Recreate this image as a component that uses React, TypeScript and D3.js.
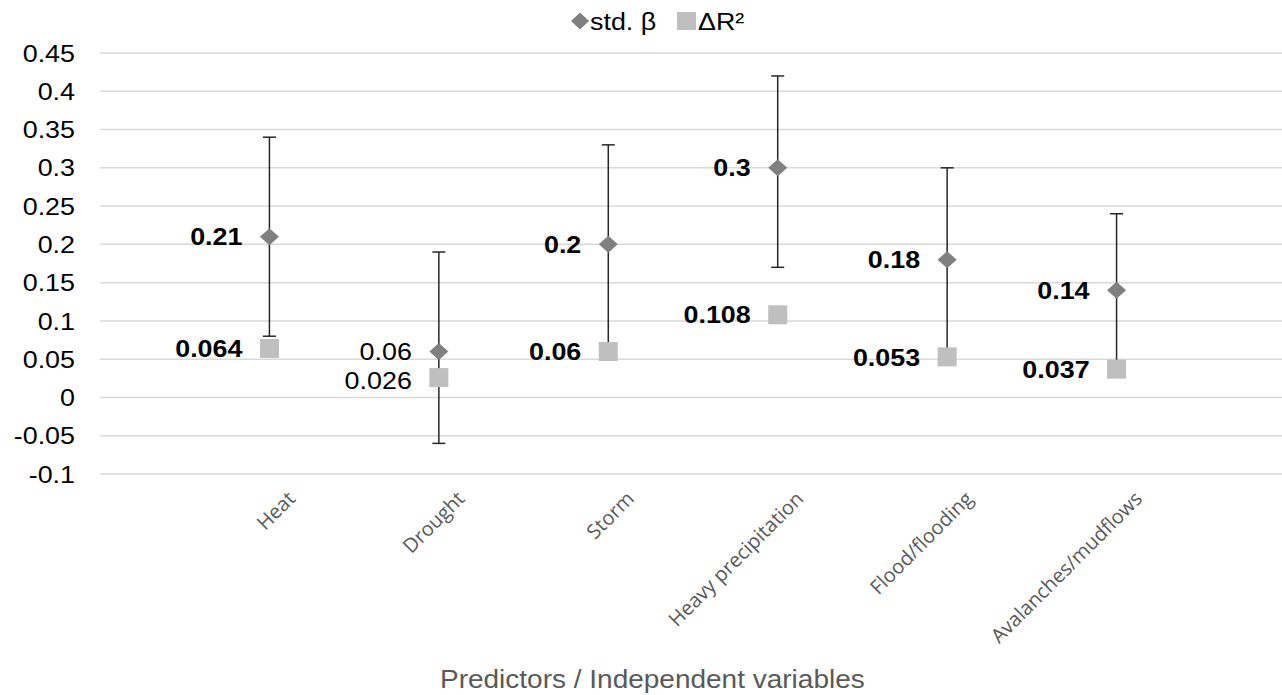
import React from 'react'
import * as d3 from 'd3'

const categories = ['Heat', 'Drought', 'Storm', 'Heavy precipitation', 'Flood/flooding', 'Avalanches/mudflows']
const beta = [0.21, 0.06, 0.2, 0.3, 0.18, 0.14]
const betaLow = [0.08, -0.06, 0.07, 0.17, 0.06, 0.04]
const betaHigh = [0.34, 0.19, 0.33, 0.42, 0.3, 0.24]
const deltaR2 = [0.064, 0.026, 0.06, 0.108, 0.053, 0.037]
// which data labels are bold (significant)
const betaBold = [true, false, true, true, true, true]
const r2Bold = [true, false, true, true, true, true]
const yTicks = [-0.1, -0.05, 0, 0.05, 0.1, 0.15, 0.2, 0.25, 0.3, 0.35, 0.4, 0.45]

const W = 1282
const H = 695
const FONT = '"Liberation Sans", Arial, sans-serif'
const STRETCH = 1.12 // the source picture is a bit wider than tall

type TProps = { x: number, y: number, size: number, bold?: boolean, fill?: string, anchor?: string, dy?: string, children: React.ReactNode }
const T = ({ x, y, size, bold, fill = '#000', anchor = 'start', dy, children }: TProps) => (
  <text transform={`translate(${x},${y}) scale(${STRETCH},1)`} dy={dy} textAnchor={anchor}
    fontFamily={FONT} fontSize={size} fontWeight={bold ? 'bold' : 'normal'} fill={fill}>
    {children}
  </text>
)

const diamondPath = (cx: number, cy: number, hw: number, hh: number) =>
  `M${cx},${cy - hh}L${cx + hw},${cy}L${cx},${cy + hh}L${cx - hw},${cy}Z`

export default function App() {
  const x = d3.scalePoint<string>().domain(categories).range([100, 1286]).padding(1)
  const y = d3.scaleLinear().domain([-0.1, 0.45]).range([474, 53])
  const sq = 19
  const cap = 6.5

  return (
    <svg width={W} height={H} style={{ position: 'absolute', left: 0, top: 0, background: '#fff' }}>
      {/* gridlines */}
      {yTicks.map(t => (
        <line key={t} x1={100} x2={1282} y1={y(t)} y2={y(t)} stroke="#d9d9d9" strokeWidth={1.5} />
      ))}
      {/* y tick labels */}
      {yTicks.map(t => (
        <T key={'l' + t} x={75} y={y(t)} dy="0.36em" anchor="end" size={24}>
          {String(+t.toFixed(2))}
        </T>
      ))}

      {/* error bars */}
      {categories.map((c, i) => {
        const cx = x(c)!
        return (
          <g key={'e' + c} stroke="#262626" strokeWidth={1.5}>
            <line x1={cx} x2={cx} y1={y(betaLow[i])} y2={y(betaHigh[i])} />
            <line x1={cx - cap} x2={cx + cap} y1={y(betaHigh[i])} y2={y(betaHigh[i])} />
            <line x1={cx - cap} x2={cx + cap} y1={y(betaLow[i])} y2={y(betaLow[i])} />
          </g>
        )
      })}

      {/* delta R2 squares */}
      {categories.map((c, i) => (
        <rect key={'s' + c} x={x(c)! - sq / 2} y={y(deltaR2[i]) - sq / 2} width={sq} height={sq} fill="#bfbfbf" />
      ))}
      {/* beta diamonds */}
      {categories.map((c, i) => (
        <path key={'d' + c} d={diamondPath(x(c)!, y(beta[i]), 9.5, 8.5)} fill="#808080" />
      ))}

      {/* data labels */}
      {categories.map((c, i) => (
        <T key={'bl' + c} x={x(c)! - 27} y={y(beta[i])} dy="0.36em" anchor="end" size={24} bold={betaBold[i]}>
          {beta[i]}
        </T>
      ))}
      {categories.map((c, i) => (
        <T key={'rl' + c} x={x(c)! - 27} y={y(deltaR2[i]) + (i === 1 ? 3 : 0)} dy="0.36em" anchor="end" size={24} bold={r2Bold[i]}>
          {deltaR2[i]}
        </T>
      ))}

      {/* x category labels */}
      {categories.map(c => (
        <text key={'x' + c} transform={`translate(${x(c)! + 27},${500}) rotate(-45)`} textAnchor="end"
          fontFamily='"Open Sans", sans-serif' fontSize={20} fill="#595959">
          {c}
        </text>
      ))}

      {/* axis title */}
      <T x={440} y={688} size={25} fill="#595959">Predictors / Independent variables</T>

      {/* legend */}
      <path d={diamondPath(580, 21, 9, 8.5)} fill="#808080" />
      <T x={590} y={30} size={24}>std. β</T>
      <rect x={677} y={12} width={19} height={18} fill="#bfbfbf" />
      <T x={698} y={30} size={24}>ΔR²</T>
    </svg>
  )
}
